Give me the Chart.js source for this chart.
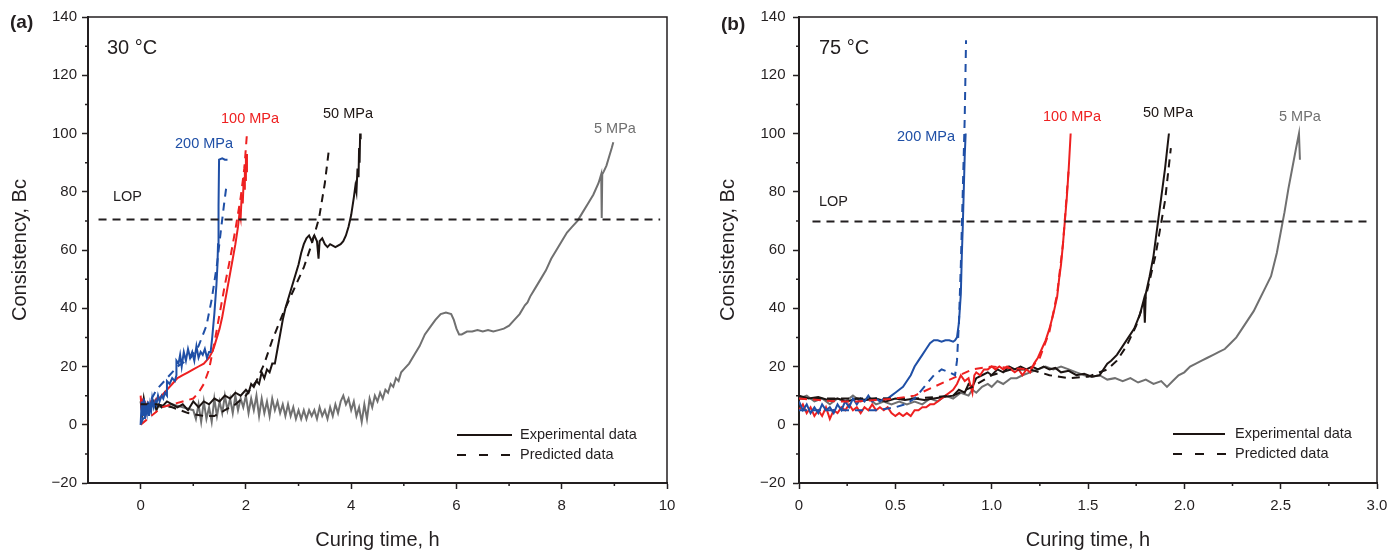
<!DOCTYPE html>
<html><head><meta charset="utf-8">
<script src="https://cdn.jsdelivr.net/npm/chart.js@4.4.1/dist/chart.umd.min.js"></script>
<style>
html,body{margin:0;padding:0;background:#fff;}
#wrap{position:relative;width:1389px;height:553px;overflow:hidden;}
#chartA{position:absolute;left:0;top:0;}
#chartB{position:absolute;left:694px;top:0;}
</style></head><body>
<div id="wrap"><canvas id="chartA" width="694" height="553"></canvas><canvas id="chartB" width="695" height="553"></canvas></div>
<script>
// ---------- DATA ----------
// Panel (a) 30 °C : [curing time h, consistency Bc]
const aExp200 = [[0,0],[0.02,8],[0.04,3],[0.06,9],[0.08,2],[0.1,6],[0.12,4],[0.14,8],[0.16,3],[0.18,7],[0.2,5],[0.22,9],[0.25,6],[0.28,8],[0.3,7],[0.33,10],[0.36,8],[0.4,10],[0.43,9],[0.46,11],[0.5,10],[0.5,15],[0.55,14],[0.6,16],[0.65,15],[0.68,17],[0.68,22],[0.72,21],[0.75,24],[0.78,20],[0.82,25],[0.86,22],[0.9,26],[0.94,23],[0.98,25],[1.02,22],[1.06,27],[1.1,23],[1.14,25],[1.18,24],[1.22,26],[1.26,23],[1.3,25],[1.33,25],[1.36,30],[1.4,38],[1.44,48],[1.46,55],[1.47,62],[1.48,75],[1.49,91],[1.5,91],[1.55,91.5],[1.6,91],[1.65,91]];
const aPred200 = [[0,0],[0.15,7],[0.3,12],[0.5,16],[0.7,20],[0.95,23],[1.1,27],[1.25,34],[1.35,43],[1.45,55],[1.52,66],[1.58,75],[1.63,82]];
const aExp100 = [[0,10],[0.02,5],[0.04,9],[0.06,3],[0.08,8],[0.1,4],[0.13,7],[0.16,5],[0.2,8],[0.25,7],[0.3,9],[0.35,9],[0.4,10],[0.45,11],[0.5,12],[0.6,14],[0.7,16],[0.8,17],[0.9,18],[1.0,19],[1.1,20],[1.2,21],[1.3,23],[1.36,25],[1.4,27],[1.45,30],[1.5,33],[1.55,37],[1.6,42],[1.65,47],[1.7,52],[1.75,57],[1.8,62],[1.85,68],[1.88,73],[1.9,71],[1.92,79],[1.94,76],[1.96,85],[1.97,81],[1.98,89],[1.99,84],[2.0,92],[2.01,87],[2.02,93]];
const aPred100 = [[0,0],[0.2,3],[0.4,6],[0.6,7],[0.8,8],[1.0,9],[1.1,11],[1.2,14],[1.3,19],[1.4,28],[1.5,38],[1.6,48],[1.7,57],[1.8,67],[1.9,78],[1.97,88],[2.02,100]];
const aExp50 = [[0,8],[0.03,4],[0.06,9],[0.1,5],[0.15,7],[0.2,6],[0.25,8],[0.3,5],[0.35,7],[0.4,6],[0.5,8],[0.6,7],[0.7,6],[0.8,7],[0.9,5],[1.0,8],[1.1,6],[1.2,8],[1.3,7],[1.4,9],[1.5,8],[1.6,10],[1.7,9],[1.8,11],[1.9,10],[2.0,12],[2.05,11],[2.1,14],[2.15,13],[2.2,15],[2.25,14],[2.3,18],[2.35,16],[2.4,19],[2.45,18],[2.5,21],[2.55,21],[2.6,26],[2.65,31],[2.7,36],[2.75,40],[2.8,43],[2.85,46],[2.9,49],[2.95,52],[3.0,55],[3.05,59],[3.1,62],[3.15,64],[3.2,65],[3.25,63],[3.3,65],[3.35,63],[3.38,57],[3.4,63],[3.45,64],[3.5,62],[3.55,61],[3.6,62],[3.7,61],[3.8,62],[3.85,63],[3.9,65],[3.95,68],[4.0,72],[4.05,78],[4.08,82],[4.1,80],[4.12,88],[4.14,85],[4.15,95],[4.16,90],[4.17,100],[4.18,98]];
const aPred50 = [[0,7],[0.3,7],[0.6,6],[0.9,4],[1.2,3],[1.4,3],[1.6,5],[1.8,7],[2.0,10],[2.2,15],[2.35,21],[2.5,29],[2.7,38],[2.9,46],[3.1,54],[3.25,62],[3.39,71],[3.5,83],[3.58,95]];
const aExp5 = [[0,6],[0.2,7],[0.4,6],[0.6,7],[0.8,6],[1.0,5],[1.05,2],[1.1,7],[1.15,1],[1.2,8],[1.25,2],[1.3,6],[1.35,1],[1.4,9],[1.45,3],[1.5,8],[1.55,4],[1.6,10],[1.65,5],[1.7,9],[1.75,4],[1.8,10],[1.85,5],[1.9,9],[1.95,6],[2.0,10],[2.05,4],[2.1,9],[2.15,5],[2.2,10],[2.25,3],[2.3,9],[2.35,4],[2.4,8],[2.45,3],[2.5,9],[2.55,5],[2.6,8],[2.65,4],[2.7,7],[2.75,3],[2.8,7],[2.85,3],[2.9,6],[2.95,2],[3.0,5],[3.05,2],[3.1,5],[3.15,2],[3.2,5],[3.25,3],[3.3,5],[3.35,2],[3.4,6],[3.45,3],[3.5,5],[3.55,2],[3.6,6],[3.65,3],[3.7,7],[3.75,4],[3.8,8],[3.85,10],[3.9,7],[3.95,9],[4.0,5],[4.05,8],[4.1,3],[4.15,6],[4.2,1],[4.25,7],[4.3,2],[4.35,9],[4.4,6],[4.45,10],[4.5,8],[4.55,11],[4.6,9],[4.65,12],[4.7,11],[4.75,14],[4.8,13],[4.85,16],[4.9,15],[4.95,18],[5.0,19],[5.1,21],[5.2,24],[5.3,27],[5.4,31],[5.5,33.5],[5.6,36],[5.7,38],[5.8,38.5],[5.9,38],[5.95,36],[6.0,33],[6.05,31],[6.1,31],[6.2,32],[6.3,32],[6.4,32.5],[6.5,32],[6.6,32.5],[6.7,32],[6.8,32.5],[6.9,33],[7.0,34],[7.1,36],[7.2,38],[7.3,41],[7.35,42],[7.4,44],[7.5,47],[7.6,50],[7.7,53],[7.8,57],[7.9,60],[8.0,63],[8.1,66],[8.2,68],[8.3,70],[8.4,73],[8.5,76],[8.6,79],[8.7,83],[8.75,86],[8.76,71],[8.77,86],[8.8,87],[8.85,89],[8.9,92],[8.95,95],[8.98,97]];
const aLop = [[-0.8,70.5],[9.87,70.5]];

// Panel (b) 75 °C
const bExp200 = [[0,8],[0.02,5],[0.04,7],[0.06,4],[0.08,6],[0.1,4],[0.12,7],[0.14,5],[0.16,6],[0.18,4],[0.2,7],[0.22,5],[0.24,8],[0.26,6],[0.28,9],[0.3,7],[0.32,9],[0.34,8],[0.36,10],[0.38,8],[0.4,9],[0.42,8],[0.44,9],[0.46,9],[0.48,10],[0.5,11],[0.52,12],[0.54,13],[0.56,15],[0.58,17],[0.6,20],[0.62,22],[0.64,24],[0.66,26],[0.68,28],[0.7,29],[0.72,29],[0.74,28.5],[0.76,29],[0.78,29],[0.8,28.5],[0.81,29],[0.82,30],[0.83,35],[0.84,45],[0.845,58],[0.85,68],[0.855,80],[0.86,92],[0.865,100]];
const bPred200 = [[0,5],[0.1,5],[0.2,5],[0.3,5],[0.4,5],[0.5,6],[0.55,7],[0.6,9],[0.65,13],[0.7,17],[0.74,19],[0.78,18],[0.81,17],[0.82,22],[0.83,35],[0.84,55],[0.85,80],[0.86,105],[0.867,132]];
const bExp100 = [[0,5],[0.02,7],[0.04,4],[0.06,6],[0.08,3],[0.1,5],[0.12,3],[0.14,6],[0.16,2],[0.18,5],[0.2,4],[0.22,6],[0.24,5],[0.26,7],[0.28,5],[0.3,6],[0.32,4],[0.34,6],[0.36,5],[0.38,7],[0.4,5],[0.42,6],[0.44,5],[0.46,6],[0.48,4],[0.5,3],[0.52,4],[0.54,3],[0.56,4],[0.58,3],[0.6,5],[0.62,5],[0.64,6],[0.66,6],[0.68,7],[0.7,7],[0.72,8],[0.74,9],[0.76,10],[0.78,11],[0.8,12],[0.82,14],[0.84,17],[0.86,15],[0.88,16],[0.9,11],[0.91,17],[0.92,18],[0.94,17],[0.96,19],[0.98,19],[1.0,20],[1.02,19],[1.04,20],[1.06,19],[1.08,20],[1.1,19],[1.12,18],[1.14,19],[1.16,17],[1.18,19],[1.2,18],[1.22,21],[1.24,23],[1.26,26],[1.28,29],[1.3,33],[1.32,38],[1.34,44],[1.35,50],[1.36,55],[1.37,62],[1.38,70],[1.39,78],[1.4,88],[1.41,100]];
const bPred100 = [[0,9],[0.1,8.5],[0.2,8],[0.3,8],[0.4,8.5],[0.5,9],[0.6,10],[0.7,13],[0.8,16],[0.9,19],[1.0,20],[1.1,19.5],[1.2,19],[1.25,23],[1.3,32],[1.34,45],[1.37,62],[1.4,88]];
const bExp50 = [[0,10],[0.05,9],[0.1,9.5],[0.15,8.5],[0.2,9],[0.25,8],[0.3,9],[0.35,8.5],[0.4,9],[0.45,8],[0.5,9],[0.55,8.5],[0.6,9],[0.65,8.5],[0.7,9],[0.75,9.5],[0.8,10],[0.83,12],[0.86,11],[0.88,14],[0.9,13],[0.92,16],[0.95,17],[0.98,18],[1.0,17],[1.03,19],[1.06,18],[1.09,20],[1.12,19],[1.15,20],[1.18,19],[1.21,20],[1.24,19],[1.27,20],[1.3,19],[1.33,19.5],[1.36,18],[1.4,18.5],[1.44,17],[1.48,17.5],[1.52,16.5],[1.56,17],[1.6,21],[1.62,22],[1.65,24],[1.68,27],[1.71,30],[1.74,33],[1.77,38],[1.79,43],[1.795,35],[1.8,45],[1.82,51],[1.84,58],[1.86,68],[1.88,78],[1.9,88],[1.91,94],[1.92,100]];
const bPred50 = [[0,9],[0.2,9],[0.4,9],[0.6,9],[0.8,10],[0.9,13],[1.0,17],[1.1,19],[1.2,19],[1.3,17],[1.4,16],[1.5,16.5],[1.6,19],[1.65,22],[1.7,27],[1.75,34],[1.8,44],[1.85,58],[1.9,77],[1.93,95]];
const bExp5 = [[0,9],[0.04,10],[0.08,8],[0.12,9],[0.16,7],[0.2,9],[0.24,8],[0.28,10],[0.32,8],[0.36,9],[0.4,7],[0.44,8],[0.48,7],[0.52,8],[0.56,7],[0.6,8],[0.64,7],[0.68,9],[0.72,8],[0.76,10],[0.8,9],[0.84,11],[0.88,10],[0.9,12],[0.92,11],[0.95,13],[0.98,14],[1.0,13],[1.03,15],[1.06,14],[1.1,16],[1.13,16],[1.16,17],[1.2,18],[1.24,19],[1.28,20],[1.32,19],[1.36,20],[1.4,19],[1.44,18],[1.48,17],[1.52,16.5],[1.56,17],[1.6,15.5],[1.64,16],[1.68,15],[1.72,16],[1.76,14.5],[1.8,15.5],[1.84,14],[1.88,15],[1.91,13],[1.94,15],[1.97,17],[2.0,18],[2.03,20],[2.06,21],[2.09,22],[2.12,23],[2.15,24],[2.18,25],[2.21,26],[2.24,28],[2.27,30],[2.3,33],[2.33,36],[2.36,39],[2.39,43],[2.42,47],[2.45,51],[2.48,59],[2.5,66],[2.52,73],[2.54,81],[2.56,88],[2.58,95],[2.595,100],[2.6,91]];
const bLop = [[0.07,69.8],[2.96,69.8]];

// Axis ticks
const aXTicks = [0,2,4,6,8,10];
const aXMinor = [1,3,5,7,9];
const bXTicks = [0,0.5,1.0,1.5,2.0,2.5,3.0];
const bXMinor = [0.25,0.75,1.25,1.75,2.25,2.75];
const yTicks = [-20,0,20,40,60,80,100,120,140];
const yMinor = [-10,10,30,50,70,90,110,130];

// Labels
const seriesNames = ['200 MPa','100 MPa','50 MPa','5 MPa'];
const legendNames = ['Experimental data','Predicted data'];

// ---------- STYLE ----------
const FF = '"Liberation Sans", Arial, Helvetica, sans-serif';
const AX = '#231f20';
const TXT = '#231f20';
const C200 = '#1f4fa6', C100 = '#ee2020', C50 = '#1c1412', C5 = '#707070';
const DASH = [8,6];

const toXY = arr => arr.map(p => ({x:p[0], y:p[1]}));
function ds(arr, color, dashed, w) {
  return {data: toXY(arr), borderColor: color, backgroundColor: color, borderWidth: w || 2,
    borderDash: dashed ? DASH : [], showLine: true, pointRadius: 0, tension: 0, fill: false};
}

const framePlugin = {
  id: 'frame',
  afterDraw(chart, args, o) {
    const {ctx, chartArea: ca, scales} = chart;
    ctx.save();
    ctx.strokeStyle = AX;
    ctx.lineWidth = 1.5;
    ctx.beginPath();
    ctx.moveTo(ca.left, ca.top); ctx.lineTo(ca.right, ca.top); ctx.lineTo(ca.right, ca.bottom);
    ctx.stroke();
    ctx.beginPath();
    o.minorX.forEach(v => { const x = scales.x.getPixelForValue(v); ctx.moveTo(x, ca.bottom); ctx.lineTo(x, ca.bottom + 3); });
    o.minorY.forEach(v => { const y = scales.y.getPixelForValue(v); ctx.moveTo(ca.left, y); ctx.lineTo(ca.left - 3, y); });
    ctx.stroke();
    ctx.textAlign = 'left'; ctx.textBaseline = 'middle';
    o.texts.forEach(t => { ctx.font = t.font; ctx.fillStyle = t.color; ctx.fillText(t.text, t.x, t.y); });
    const L = o.legend;
    ctx.strokeStyle = C50; ctx.lineWidth = 2;
    ctx.beginPath(); ctx.setLineDash([]); ctx.moveTo(L.x0, L.y0); ctx.lineTo(L.x1, L.y0); ctx.stroke();
    ctx.beginPath(); ctx.setLineDash([9,13]); ctx.moveTo(L.x0, L.y1); ctx.lineTo(L.x1 + 2, L.y1); ctx.stroke();
    ctx.setLineDash([]);
    ctx.font = '14.5px ' + FF; ctx.fillStyle = TXT;
    ctx.fillText(legendNames[0], L.tx, L.y0);
    ctx.fillText(legendNames[1], L.tx, L.y1);
    ctx.restore();
  }
};

function scalesFor(xMin, xMax, xTicks, xFmt, yTitlePad, yTickPad, yWidth) {
  const grid = {drawOnChartArea: false, drawTicks: true, tickLength: 6, tickWidth: 1.5, tickColor: AX, color: AX};
  const border = {display: true, color: AX, width: 2};
  return {
    x: {type: 'linear', min: xMin, max: xMax,
      afterBuildTicks: s => { s.ticks = xTicks.map(v => ({value: v})); },
      afterFit: s => { s.height = 70; s.paddingRight = 0; s.paddingLeft = 0; },
      grid, border,
      ticks: {color: TXT, font: {family: FF, size: 15}, padding: 8, maxRotation: 0, autoSkip: false, callback: xFmt},
      title: {display: true, text: 'Curing time, h', color: TXT, font: {family: FF, size: 20}, padding: {top: 0, bottom: 1}}
    },
    y: {type: 'linear', min: -20, max: 140,
      afterBuildTicks: s => { s.ticks = yTicks.map(v => ({value: v})); },
      afterFit: s => { s.width = yWidth; s.paddingTop = 0; s.paddingBottom = 0; },
      grid, border,
      ticks: {color: TXT, font: {family: FF, size: 15}, padding: yTickPad, autoSkip: false, callback: v => String(v).replace('-', '\u2212')},
      title: {display: true, text: 'Consistency, Bc', color: TXT, font: {family: FF, size: 20}, padding: {top: yTitlePad, bottom: 0}}
    }
  };
}

function makeChart(id, datasets, scales, padRight, frameOpts) {
  return new Chart(document.getElementById(id), {
    type: 'scatter',
    data: {datasets},
    options: {
      responsive: false, animation: false, devicePixelRatio: 1,
      layout: {padding: {left: 0, right: padRight, top: 17, bottom: 0}},
      plugins: {legend: {display: false}, tooltip: {enabled: false}, frame: frameOpts},
      scales
    },
    plugins: [framePlugin]
  });
}

const f20 = '20px ' + FF, f145 = '14.5px ' + FF, fB = 'bold 19px ' + FF;

makeChart('chartA', [
  ds(aLop, AX, true),
  ds(aPred200, C200, true), ds(aPred100, C100, true), ds(aPred50, C50, true),
  ds(aExp200, C200, false), ds(aExp100, C100, false), ds(aExp50, C50, false), ds(aExp5, C5, false)
], scalesFor(-1, 10, aXTicks, v => String(v), 8, 5, 88), 27, {
  minorX: aXMinor, minorY: yMinor,
  texts: [
    {text: '(a)', x: 10, y: 23, font: fB, color: TXT},
    {text: '30 °C', x: 107, y: 48, font: f20, color: TXT},
    {text: 'LOP', x: 113, y: 197, font: f145, color: TXT},
    {text: seriesNames[0], x: 175, y: 144, font: f145, color: C200},
    {text: seriesNames[1], x: 221, y: 119, font: f145, color: C100},
    {text: seriesNames[2], x: 323, y: 114, font: f145, color: C50},
    {text: seriesNames[3], x: 594, y: 129, font: f145, color: C5}
  ],
  legend: {x0: 457, x1: 512, y0: 435, y1: 455, tx: 520}
});

makeChart('chartB', [
  ds(bLop, AX, true),
  ds(bPred200, C200, true), ds(bPred100, C100, true), ds(bPred50, C50, true),
  ds(bExp200, C200, false), ds(bExp100, C100, false), ds(bExp50, C50, false), ds(bExp5, C5, false)
], scalesFor(0, 3, bXTicks, v => v === 0 ? '0' : v.toFixed(1), 22, 7.5, 105), 12, {
  minorX: bXMinor, minorY: yMinor,
  texts: [
    {text: '(b)', x: 27, y: 25, font: fB, color: TXT},
    {text: '75 °C', x: 125, y: 48, font: f20, color: TXT},
    {text: 'LOP', x: 125, y: 202, font: f145, color: TXT},
    {text: seriesNames[0], x: 203, y: 137, font: f145, color: C200},
    {text: seriesNames[1], x: 349, y: 117, font: f145, color: C100},
    {text: seriesNames[2], x: 449, y: 113, font: f145, color: C50},
    {text: seriesNames[3], x: 585, y: 117, font: f145, color: C5}
  ],
  legend: {x0: 479, x1: 531, y0: 434, y1: 454, tx: 541}
});
</script>
</body></html>
